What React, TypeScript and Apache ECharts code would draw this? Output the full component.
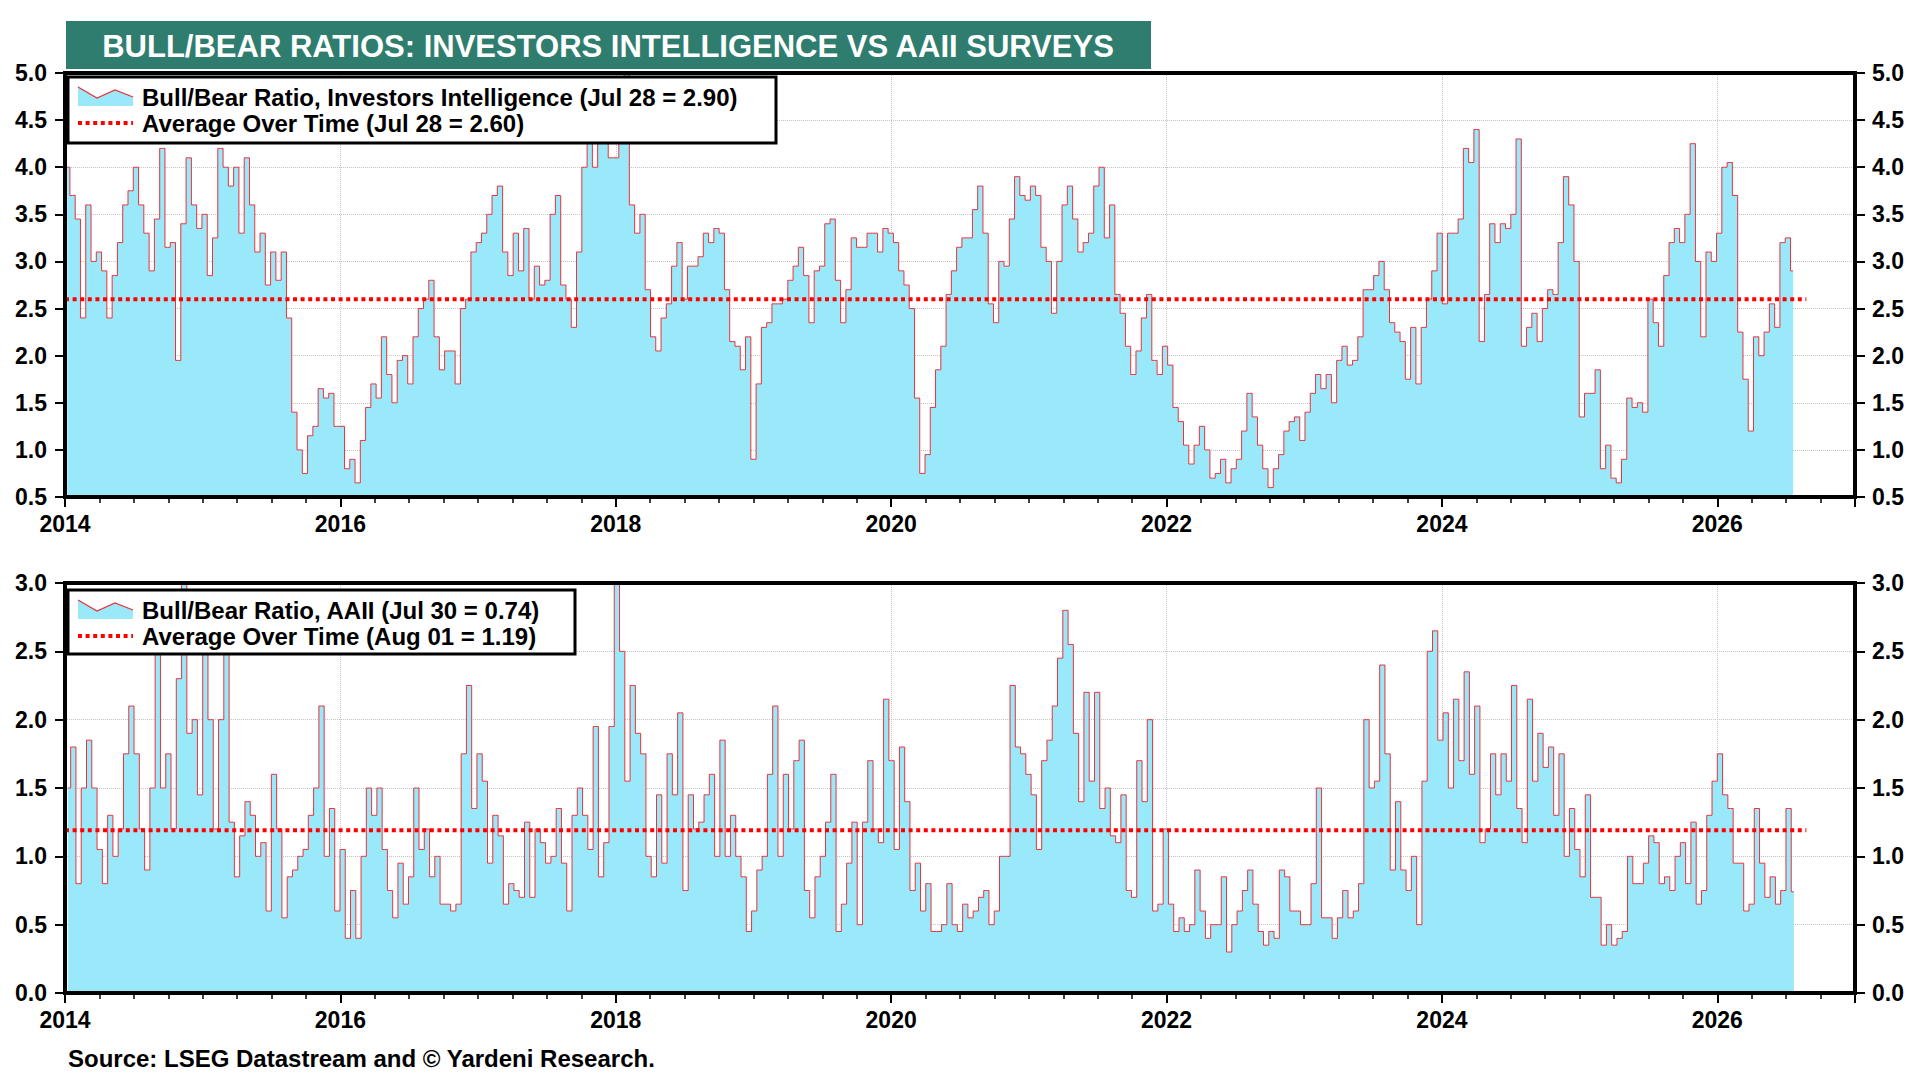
import React, { useEffect, useRef } from "react";
import * as echarts from "echarts";

// ---- Investors Intelligence bull/bear ratio, biweekly readings ----
const ii2014 = [4.0, 3.7, 3.45, 2.4, 3.6, 3.0, 3.1, 2.9, 2.4, 2.85, 3.2, 3.6, 3.75, 4.0, 3.6, 3.3, 2.9, 3.45, 4.2, 3.15, 3.2, 1.95, 3.4, 4.1, 3.6, 3.35];
const ii2015 = [3.5, 2.85, 3.25, 4.2, 4.0, 3.8, 4.0, 3.3, 4.1, 3.6, 3.1, 3.3, 2.75, 3.1, 2.8, 3.1, 2.4, 1.4, 1.0, 0.75, 1.15, 1.25, 1.65, 1.55, 1.6, 1.25];
const ii2016 = [1.25, 0.8, 0.9, 0.65, 1.1, 1.45, 1.7, 1.55, 2.2, 1.8, 1.5, 1.95, 2.0, 1.7, 2.2, 2.5, 2.6, 2.8, 2.2, 1.85, 2.05, 2.05, 1.7, 2.5, 2.6, 3.1];
const ii2017 = [3.2, 3.3, 3.5, 3.7, 3.8, 3.1, 2.85, 3.3, 2.9, 3.35, 2.6, 2.95, 2.75, 2.8, 3.5, 3.7, 2.75, 2.6, 2.3, 3.1, 4.0, 4.3, 4.0, 4.3, 4.4, 4.1];
const ii2018 = [4.1, 4.3, 5.3, 3.6, 3.3, 3.5, 2.7, 2.2, 2.05, 2.4, 2.55, 2.95, 3.2, 2.6, 2.95, 2.95, 3.05, 3.3, 3.2, 3.35, 3.3, 2.7, 2.15, 2.1, 1.85, 2.2];
const ii2019 = [0.9, 1.7, 2.3, 2.35, 2.55, 2.55, 2.6, 2.8, 2.95, 3.15, 2.85, 2.35, 2.9, 2.95, 3.4, 3.45, 2.8, 2.35, 2.7, 3.25, 3.15, 3.15, 3.3, 3.3, 3.1, 3.35];
const ii2020 = [3.3, 3.2, 2.9, 2.75, 2.5, 1.55, 0.75, 0.95, 1.45, 1.85, 2.1, 2.65, 2.9, 3.15, 3.25, 3.25, 3.55, 3.8, 3.3, 2.55, 2.35, 3.0, 2.95, 3.45, 3.9, 3.7];
const ii2021 = [3.65, 3.8, 3.7, 3.15, 3.0, 2.45, 3.0, 3.6, 3.8, 3.45, 3.1, 3.2, 3.3, 3.8, 4.0, 3.25, 3.6, 2.65, 2.45, 2.1, 1.8, 2.05, 2.4, 2.65, 1.95, 1.8];
const ii2022 = [2.1, 1.9, 1.45, 1.3, 1.05, 0.85, 1.05, 1.25, 1.0, 0.7, 0.75, 0.9, 0.65, 0.8, 0.9, 1.2, 1.6, 1.35, 1.05, 0.8, 0.6, 0.8, 0.95, 1.2, 1.3, 1.35];
const ii2023 = [1.1, 1.4, 1.6, 1.8, 1.65, 1.8, 1.5, 1.95, 2.1, 1.9, 1.95, 2.2, 2.7, 2.7, 2.85, 3.0, 2.7, 2.35, 2.25, 2.15, 1.75, 2.3, 1.7, 2.3, 2.6, 2.9];
const ii2024 = [3.3, 2.55, 3.3, 3.3, 3.45, 4.2, 4.05, 4.4, 2.15, 2.65, 3.4, 3.2, 3.4, 3.35, 3.5, 4.3, 2.1, 2.3, 2.45, 2.15, 2.5, 2.7, 2.65, 3.2, 3.9, 3.6];
const ii2025 = [3.0, 1.35, 1.6, 1.6, 1.85, 0.8, 1.05, 0.7, 0.65, 0.9, 1.55, 1.45, 1.5, 1.4, 2.6, 2.35, 2.1, 2.85, 3.2, 3.35, 3.2, 3.5, 4.25, 3.0, 2.2, 3.1];
const ii2026 = [3.0, 3.3, 4.0, 4.05, 3.7, 2.25, 1.75, 1.2, 2.2, 2.0, 2.25, 2.55, 2.3, 3.2, 3.25, 2.9];

// ---- AAII bull/bear ratio, biweekly readings ----
const aa2014 = [1.5, 1.8, 0.8, 1.5, 1.85, 1.5, 1.05, 0.8, 1.3, 1.0, 1.2, 1.75, 2.1, 1.75, 1.2, 0.9, 1.5, 2.9, 1.5, 1.75, 1.2, 2.3, 3.1, 1.9, 2.0, 1.45];
const aa2015 = [2.5, 2.0, 1.2, 2.0, 2.5, 1.25, 0.85, 1.15, 1.4, 1.3, 1.0, 1.1, 0.6, 1.6, 1.2, 0.55, 0.85, 0.9, 1.0, 1.05, 1.3, 1.5, 2.1, 1.0, 1.35, 0.6];
const aa2016 = [1.05, 0.4, 0.75, 0.4, 1.0, 1.5, 1.3, 1.5, 1.05, 0.75, 0.55, 0.95, 0.65, 0.85, 1.5, 1.05, 1.2, 0.85, 1.0, 0.65, 0.65, 0.6, 0.65, 1.75, 2.25, 1.35];
const aa2017 = [1.75, 1.55, 0.95, 1.3, 1.15, 0.65, 0.8, 0.75, 0.7, 1.25, 0.7, 1.2, 1.1, 0.95, 1.0, 1.35, 0.95, 0.6, 1.3, 1.5, 1.3, 1.05, 1.95, 0.85, 1.1, 1.95];
const aa2018 = [3.1, 2.5, 1.55, 2.25, 1.9, 1.75, 1.0, 0.85, 1.45, 0.95, 1.75, 1.45, 2.05, 0.75, 1.45, 1.2, 1.25, 1.45, 1.6, 1.0, 1.85, 1.0, 1.3, 1.0, 0.85, 0.45];
const aa2019 = [0.6, 0.9, 1.0, 1.6, 2.1, 1.0, 1.6, 1.2, 1.7, 1.85, 0.75, 0.55, 0.85, 1.0, 1.25, 1.6, 0.45, 0.65, 0.95, 1.25, 0.5, 1.25, 1.7, 1.2, 1.1, 2.15];
const aa2020 = [1.7, 1.05, 1.8, 1.4, 0.75, 0.95, 0.6, 0.8, 0.45, 0.45, 0.5, 0.8, 0.5, 0.45, 0.65, 0.55, 0.6, 0.7, 0.75, 0.5, 0.6, 1.0, 1.0, 2.25, 1.8, 1.75];
const aa2021 = [1.6, 1.45, 1.05, 1.7, 1.85, 2.1, 2.45, 2.8, 2.55, 1.9, 1.4, 2.2, 1.55, 2.2, 1.35, 1.5, 1.15, 1.1, 1.45, 0.75, 0.7, 1.7, 1.4, 2.0, 0.6, 0.65];
const aa2022 = [1.2, 0.65, 0.45, 0.55, 0.45, 0.5, 0.9, 0.6, 0.4, 0.5, 0.5, 0.85, 0.3, 0.5, 0.6, 0.75, 0.9, 0.65, 0.45, 0.35, 0.45, 0.4, 0.9, 0.85, 0.6, 0.6];
const aa2023 = [0.5, 0.5, 0.8, 1.5, 0.55, 0.55, 0.4, 0.55, 0.75, 0.55, 0.6, 0.8, 2.0, 1.5, 1.55, 2.4, 1.75, 0.9, 1.4, 0.9, 0.75, 1.0, 0.5, 1.55, 2.5, 2.65];
const aa2024 = [1.85, 2.05, 1.5, 2.15, 1.7, 2.35, 1.6, 2.1, 1.1, 1.2, 1.75, 1.45, 1.75, 1.55, 2.25, 1.35, 1.1, 2.15, 1.55, 1.9, 1.65, 1.8, 1.3, 1.75, 1.0, 1.35];
const aa2025 = [1.05, 0.85, 1.45, 0.7, 0.7, 0.35, 0.5, 0.35, 0.4, 0.45, 1.0, 0.8, 0.8, 0.95, 1.15, 1.1, 0.8, 0.85, 0.75, 1.0, 1.1, 0.8, 1.25, 0.65, 0.75, 1.3];
const aa2026 = [1.55, 1.75, 1.45, 1.35, 0.95, 0.95, 0.6, 0.65, 1.35, 0.95, 0.7, 0.85, 0.65, 0.75, 1.35, 0.74];

const iiStartDate = "2014-01-07";
const aaStartDate = "2014-01-09";
const stepDays = 14;
const iiAverage = 2.6;
const aaAverage = 1.19;
const avgStartDate = "2014-01-01";
const avgEndDate = "2026-08-25";
const iiLastLabel = "Jul 28";
const iiAvgLabel = "Jul 28";
const aaLastLabel = "Jul 30";
const aaAvgLabel = "Aug 01";

const topYTicks = { min: 0.5, max: 5, interval: 0.5 };
const botYTicks = { min: 0, max: 3, interval: 0.5 };
const xRange = { min: 2014, max: 2027, labelEvery: 2, minorEvery: 0.25 };

const titleText = "BULL/BEAR RATIOS: INVESTORS INTELLIGENCE VS AAII SURVEYS";
const sourceText = "Source: LSEG Datastream and \u00A9 Yardeni Research.";

const FONT = 'Arial, "Liberation Sans", Helvetica, sans-serif';
const FILL = "#99e9fb";
const LINE = "#e8343c";
const AVG = "#ff0000";
const TEAL = "#2f7d6f";

const iiValues = [ii2014, ii2015, ii2016, ii2017, ii2018, ii2019, ii2020, ii2021, ii2022, ii2023, ii2024, ii2025, ii2026].flat();
const aaValues = [aa2014, aa2015, aa2016, aa2017, aa2018, aa2019, aa2020, aa2021, aa2022, aa2023, aa2024, aa2025, aa2026].flat();

function parseDate(s: string) {
  const [y, m, d] = s.split("-").map(Number);
  return Date.UTC(y, m - 1, d);
}
function toYear(ms: number) {
  const y = new Date(ms).getUTCFullYear();
  const a = Date.UTC(y, 0, 1);
  const b = Date.UTC(y + 1, 0, 1);
  return y + (ms - a) / (b - a);
}
function build(start: string, values: number[]) {
  const t0 = parseDate(start);
  return values.map((v, i) => [toYear(t0 + i * stepDays * 86400000), v]);
}

const labelStyle = { color: "#000", fontSize: 23, fontWeight: "bold" as const, fontFamily: FONT };
const gridLine = { show: true, lineStyle: { type: "dotted" as const, color: "#c4c4c4", width: 1 } };

function xAxes(gridIndex: number) {
  return [
    {
      type: "value",
      gridIndex,
      min: xRange.min,
      max: xRange.max,
      interval: xRange.labelEvery,
      position: "bottom",
      axisLine: { show: false },
      axisTick: { show: true, length: 10, lineStyle: { color: "#000", width: 2 } },
      axisLabel: {
        ...labelStyle,
        margin: 15,
        formatter: (v: number) => (v % 2 === 0 ? String(v) : ""),
      },
      splitLine: gridLine,
    },
    {
      type: "value",
      gridIndex,
      min: xRange.min,
      max: xRange.max,
      interval: xRange.minorEvery,
      position: "bottom",
      axisLine: { show: false },
      axisTick: { show: true, length: 6, lineStyle: { color: "#000", width: 1.5 } },
      axisLabel: { show: false },
      splitLine: { show: false },
    },
  ];
}

function yAxes(gridIndex: number, t: { min: number; max: number; interval: number }) {
  const base = {
    type: "value",
    gridIndex,
    min: t.min,
    max: t.max,
    interval: t.interval,
    axisLine: { show: false },
    axisTick: { show: true, length: 10, lineStyle: { color: "#000", width: 2 } },
  };
  return [
    {
      ...base,
      position: "left",
      axisLabel: { ...labelStyle, margin: 18, formatter: (v: number) => v.toFixed(1) },
      splitLine: gridLine,
    },
    {
      ...base,
      position: "right",
      axisLabel: { ...labelStyle, margin: 17, formatter: (v: number) => v.toFixed(1) },
      splitLine: { show: false },
    },
  ];
}

function legendGraphic(x: number, y: number, w: number, h: number, line1: string, line2: string) {
  const iconTop = [
    [x + 10, y + 10],
    [x + 29, y + 21],
    [x + 47, y + 13],
    [x + 65, y + 20],
  ];
  const r1 = y + 20;
  const r2 = y + 46;
  const txt = (t: string, ty: number) => ({
    type: "text",
    x: x + 74,
    y: ty,
    z: 101,
    style: {
      text: t,
      fill: "#000",
      fontSize: 24,
      fontWeight: "bold",
      fontFamily: FONT,
      align: "left",
      verticalAlign: "middle",
      textAlign: "left",
      textVerticalAlign: "middle",
    },
  });
  return [
    { type: "rect", z: 100, shape: { x, y, width: w, height: h }, style: { fill: "#fff", stroke: "#000", lineWidth: 3 } },
    {
      type: "polygon",
      z: 101,
      shape: { points: [...iconTop, [x + 65, y + 29], [x + 10, y + 29]] },
      style: { fill: FILL },
    },
    { type: "polyline", z: 102, shape: { points: iconTop }, style: { stroke: LINE, lineWidth: 1.3, fill: null } },
    {
      type: "line",
      z: 101,
      shape: { x1: x + 10, y1: r2, x2: x + 65, y2: r2 },
      style: { stroke: AVG, lineWidth: 4, lineDash: [4, 3.6] },
    },
    txt(line1, r1),
    txt(line2, r2),
  ];
}

export default function App() {
  const ref = useRef<HTMLDivElement>(null);

  useEffect(() => {
    document.body.style.margin = "0";
    if (!ref.current) return;
    const chart = echarts.init(ref.current, undefined, { renderer: "svg" });

    const iiData = build(iiStartDate, iiValues);
    const aaData = build(aaStartDate, aaValues);
    const avgX0 = toYear(parseDate(avgStartDate));
    const avgX1 = toYear(parseDate(avgEndDate));
    const iiLast = iiValues[iiValues.length - 1];
    const aaLast = aaValues[aaValues.length - 1];

    const grids = [
      { left: 65, right: 65, top: 73, height: 424 },
      { left: 65, right: 65, top: 583, height: 410 },
    ];

    const ratioSeries = (name: string, axis: number, data: number[][]) => ({
      name,
      type: "line",
      xAxisIndex: axis,
      yAxisIndex: axis,
      data,
      step: "middle",
      symbol: "none",
      lineStyle: { color: LINE, width: 1 },
      itemStyle: { color: LINE },
      areaStyle: { color: FILL, opacity: 1, origin: "start" },
      z: 2,
    });
    const avgSeries = (name: string, axis: number, v: number) => ({
      name,
      type: "line",
      xAxisIndex: axis,
      yAxisIndex: axis,
      data: [
        [avgX0, v],
        [avgX1, v],
      ],
      symbol: "none",
      lineStyle: { color: AVG, width: 4, type: [4, 3.6] },
      z: 3,
    });

    const option: any = {
      animation: false,
      backgroundColor: "#fff",
      textStyle: { fontFamily: FONT },
      grid: grids.map((g) => ({ ...g, show: false, containLabel: false })),
      xAxis: [...xAxes(0), ...xAxes(1)],
      yAxis: [...yAxes(0, topYTicks), ...yAxes(1, botYTicks)],
      series: [
        ratioSeries("II", 0, iiData),
        avgSeries("II avg", 0, iiAverage),
        ratioSeries("AAII", 2, aaData),
        avgSeries("AAII avg", 2, aaAverage),
      ],
      graphic: [
        { type: "rect", z: 100, shape: { x: 66, y: 21, width: 1085, height: 48 }, style: { fill: TEAL } },
        {
          type: "text",
          z: 101,
          x: 608,
          y: 46,
          style: {
            text: titleText,
            fill: "#fff",
            fontSize: 31,
            fontWeight: "bold",
            fontFamily: FONT,
            align: "center",
            verticalAlign: "middle",
            textAlign: "center",
            textVerticalAlign: "middle",
          },
        },
        ...grids.map((g) => ({
          type: "rect",
          z: 90,
          shape: { x: g.left, y: g.top, width: 1920 - g.left - g.right, height: g.height },
          style: { fill: null, stroke: "#000", lineWidth: 4 },
        })),
        ...legendGraphic(
          68,
          77,
          708,
          66,
          `Bull/Bear Ratio, Investors Intelligence (${iiLastLabel} = ${iiLast.toFixed(2)})`,
          `Average Over Time (${iiAvgLabel} = ${iiAverage.toFixed(2)})`
        ),
        ...legendGraphic(
          68,
          590,
          507,
          64,
          `Bull/Bear Ratio, AAII (${aaLastLabel} = ${aaLast.toFixed(2)})`,
          `Average Over Time (${aaAvgLabel} = ${aaAverage.toFixed(2)})`
        ),
        {
          type: "text",
          z: 101,
          x: 68,
          y: 1058,
          style: {
            text: sourceText,
            fill: "#000",
            fontSize: 24,
            fontWeight: "bold",
            fontFamily: FONT,
            align: "left",
            verticalAlign: "middle",
            textAlign: "left",
            textVerticalAlign: "middle",
          },
        },
      ],
    };

    chart.setOption(option);
    return () => chart.dispose();
  }, []);

  return (
    <div
      ref={ref}
      style={{ position: "fixed", left: 0, top: 0, width: 1920, height: 1080, background: "#fff" }}
    />
  );
}
